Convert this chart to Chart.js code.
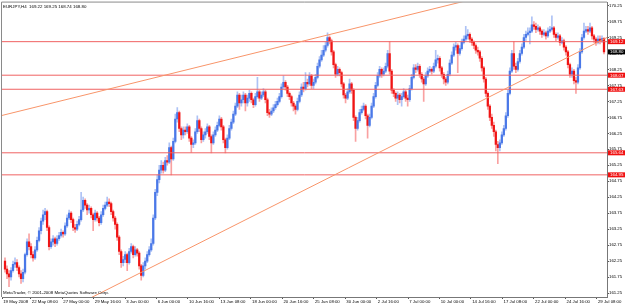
<!DOCTYPE html>
<html>
<head>
<meta charset="utf-8">
<script src="https://cdn.jsdelivr.net/npm/chart.js@4.4.1/dist/chart.umd.min.js"></script>
<style>
  html, body { margin: 0; padding: 0; background: #fff; }
  #wrap { width: 625px; height: 304px; }
</style>
</head>
<body>
<div id="wrap"><canvas id="chart" width="625" height="304"></canvas></div>
<script>
// EURJPY H4 candles, 19 May - 29 Jul 2008
const symbol = 'EURJPY,H4';
const firstOpen = 162.25;
const closes = [
  162.00,161.85,161.75,161.95,162.15,162.20,162.05,161.85,161.70,161.90,
  162.45,162.85,162.70,162.45,162.35,162.60,162.90,163.20,163.50,163.70,
  163.80,163.30,162.70,162.85,162.95,162.80,162.95,163.05,163.15,163.10,
  163.35,163.60,163.75,163.55,163.30,163.25,163.40,163.55,163.85,164.15,
  164.00,163.85,163.90,163.70,163.55,163.75,163.60,163.45,163.70,163.90,
  164.00,164.10,164.05,163.80,163.60,163.40,163.00,162.55,162.20,162.30,
  162.45,162.20,162.55,162.70,162.45,162.60,162.50,162.10,161.80,162.10,
  162.25,162.45,162.60,162.80,163.60,164.40,164.80,165.10,165.25,165.10,
  165.40,165.35,165.80,165.45,166.00,166.70,166.90,166.40,166.20,166.35,
  166.30,166.45,166.10,165.90,165.95,166.30,166.65,166.40,166.05,166.20,
  166.30,166.45,166.15,165.95,166.20,166.35,166.50,166.70,166.45,166.05,
  165.80,166.10,166.40,166.60,166.85,167.10,167.45,167.20,167.30,167.45,
  167.20,167.35,167.50,167.30,167.15,167.40,167.55,167.35,167.45,167.55,
  167.30,166.90,166.85,166.95,167.05,167.15,167.25,167.40,167.70,167.85,
  167.70,167.50,167.40,167.20,167.10,167.00,167.25,167.45,167.70,167.65,
  167.85,167.80,168.05,167.75,167.85,168.00,168.35,168.55,168.70,168.85,
  169.00,169.25,169.15,168.80,168.40,168.10,168.25,168.15,167.80,167.45,
  167.35,167.55,167.80,167.60,166.75,166.40,166.65,166.90,167.00,167.10,
  166.80,166.50,166.75,167.10,167.40,167.75,168.05,168.25,168.10,168.20,
  168.35,168.75,168.20,167.60,167.50,167.35,167.45,167.30,167.40,167.55,
  167.35,167.30,167.65,168.00,168.30,168.25,168.35,168.10,167.95,167.80,
  168.05,168.20,168.25,168.20,168.35,168.55,168.60,168.30,168.10,167.95,
  167.85,168.10,168.45,168.70,168.95,169.00,168.75,168.90,169.10,169.20,
  169.30,169.35,169.20,169.10,169.00,168.85,168.80,168.60,168.30,167.95,
  167.50,167.10,166.75,166.50,166.30,165.90,165.80,165.95,166.20,166.40,
  166.80,167.50,168.20,168.75,168.35,168.25,168.50,168.75,168.95,169.25,
  169.35,169.40,169.45,169.65,169.60,169.50,169.55,169.45,169.35,169.40,
  169.30,169.45,169.50,169.55,169.35,169.25,169.30,169.10,169.15,168.95,
  168.80,168.40,168.10,168.20,167.90,167.85,168.30,168.80,169.25,169.45,
  169.50,169.45,169.55,169.30,169.20,169.10,169.20,169.15,169.22,168.80
];
const highs = [
  162.35,162.10,161.95,162.05,162.25,162.35,162.30,162.10,161.95,162.00,
  162.50,162.95,163.10,162.80,162.55,162.70,163.00,163.30,163.60,163.85,
  163.90,163.85,163.35,162.95,163.05,163.00,163.05,163.15,163.25,163.20,
  163.45,163.70,163.85,163.80,163.60,163.40,163.50,163.65,164.40,164.25,
  164.20,164.05,164.00,163.95,163.75,163.85,163.80,163.65,163.80,164.00,
  164.10,164.25,164.20,164.10,163.85,163.65,163.45,163.05,162.60,162.40,
  162.55,162.50,162.65,162.80,162.75,162.70,162.65,162.55,162.15,162.20,
  162.35,162.55,162.70,162.95,163.70,164.50,164.95,165.25,165.40,165.35,
  165.50,165.55,165.95,165.85,166.10,166.85,167.06,166.95,166.45,166.45,
  166.45,166.55,166.50,166.15,166.05,166.40,166.80,166.70,166.45,166.30,
  166.40,166.55,166.50,166.20,166.30,166.45,166.60,166.80,166.75,166.50,
  166.10,166.20,166.50,166.70,166.95,167.20,167.55,167.50,167.45,167.55,
  167.50,167.45,167.60,167.55,167.35,167.50,168.00,167.60,167.55,167.65,
  167.60,167.35,167.00,167.05,167.15,167.25,167.35,167.50,167.80,168.05,
  167.90,167.75,167.55,167.45,167.25,167.15,167.35,167.55,167.80,167.85,
  168.15,167.95,168.15,168.10,167.95,168.10,168.45,168.65,168.85,169.00,
  169.10,169.40,169.30,169.20,168.85,168.45,168.35,168.30,168.20,167.85,
  167.50,167.65,167.95,167.85,167.65,166.80,166.75,167.00,167.10,167.20,
  167.15,166.85,166.85,167.20,167.50,167.85,168.15,168.35,168.30,168.30,
  168.45,168.85,169.12,168.25,167.65,167.55,167.55,167.50,167.50,167.65,
  167.60,167.45,167.75,168.10,168.40,168.40,168.45,168.40,168.15,168.00,
  168.15,168.30,168.35,168.30,168.45,168.85,168.70,168.65,168.35,168.15,
  168.00,168.20,168.55,168.80,169.05,169.10,169.05,169.00,169.20,169.30,
  169.60,169.50,169.40,169.25,169.15,169.05,168.95,168.85,168.65,168.35,
  168.00,167.55,167.15,166.85,166.60,166.35,166.00,166.05,166.30,166.50,
  166.90,167.60,168.30,168.85,169.12,168.45,168.60,168.85,169.05,169.35,
  169.45,169.55,169.55,169.90,169.75,169.70,169.65,169.60,169.50,169.50,
  169.45,169.55,169.60,169.93,169.60,169.40,169.40,169.35,169.25,169.20,
  169.00,168.85,168.45,168.30,168.25,168.00,168.40,168.90,169.35,169.70,
  169.60,169.60,169.70,169.60,169.35,169.25,169.30,169.30,169.30,169.25
];
const lows = [
  161.90,161.70,161.45,161.65,161.90,162.05,161.95,161.75,161.55,161.60,
  161.85,162.40,162.60,162.35,162.25,162.30,162.55,162.85,163.10,163.40,
  163.55,163.20,162.60,162.65,162.75,162.70,162.75,162.90,163.00,163.00,
  163.05,163.30,163.55,163.45,163.20,163.15,163.20,163.35,163.50,163.80,
  163.90,163.70,163.75,163.60,163.20,163.50,163.50,163.35,163.40,163.65,
  163.85,163.95,163.95,163.70,163.50,163.25,162.90,162.45,162.05,162.10,
  162.20,161.95,162.15,162.50,162.35,162.40,162.40,162.00,161.65,161.75,
  162.00,162.20,162.40,162.55,162.75,163.55,164.30,164.70,165.00,165.00,
  165.05,165.25,165.30,164.95,165.40,165.95,166.60,166.30,166.05,166.10,
  166.20,166.25,166.00,165.65,165.80,165.90,166.25,166.30,165.95,166.00,
  166.10,166.25,166.05,165.64,165.90,166.15,166.30,166.45,166.35,165.95,
  165.64,165.75,166.05,166.35,166.55,166.80,167.05,167.00,167.10,167.20,
  166.95,167.10,167.25,167.20,167.05,167.10,167.35,167.25,167.30,167.40,
  167.20,166.80,166.75,166.80,166.90,167.00,167.10,167.20,167.35,167.65,
  167.60,167.40,167.30,167.10,166.95,166.85,166.95,167.20,167.40,167.55,
  167.60,167.70,167.75,167.65,167.65,167.80,167.95,168.30,168.50,168.65,
  168.80,168.95,169.05,168.70,168.30,168.00,168.05,168.05,167.70,167.35,
  167.20,167.30,167.50,167.50,166.65,166.00,166.35,166.60,166.85,166.95,
  166.70,166.10,166.45,166.70,167.05,167.35,167.70,168.00,168.00,168.05,
  168.15,168.30,168.10,167.50,167.40,167.25,167.15,167.20,167.10,167.35,
  167.25,167.10,167.25,167.60,167.95,168.15,168.20,168.00,167.85,167.25,
  167.75,168.00,168.15,168.10,168.15,168.30,168.45,168.20,168.00,167.80,
  167.75,167.80,168.05,168.40,168.65,168.85,168.15,168.70,168.85,169.05,
  169.15,169.20,169.10,169.00,168.90,168.75,168.70,168.50,168.20,167.85,
  167.40,167.00,166.65,166.40,166.15,165.70,165.30,165.70,165.90,166.15,
  166.35,166.75,167.45,168.15,168.25,168.15,168.20,168.45,168.70,168.90,
  169.15,169.30,169.05,169.40,169.50,169.40,169.45,169.35,169.25,169.30,
  169.20,169.25,169.40,169.45,169.25,169.15,169.20,169.00,169.05,168.85,
  168.70,168.30,168.00,168.00,167.80,167.50,167.80,168.25,168.75,169.20,
  169.40,169.35,169.40,169.20,169.10,169.00,169.05,169.05,169.10,168.74
];

// horizontal levels and trend lines (bar index, price)
const levels = [169.12, 168.07, 167.63, 165.64, 164.95];
const upperTrend = [{ x: -1.5, y: 166.81 }, { x: 300.5, y: 171.49 }];
const lowerTrend = [{ x: 40, y: 161.01 }, { x: 300.5, y: 169.25 }];

// axis ticks
const priceTicks = [161.25, 161.75, 162.25, 162.75, 163.25, 163.75, 164.25, 164.75, 165.25,
  165.75, 166.25, 166.75, 167.25, 167.75, 168.25, 168.75, 169.25, 169.75, 170.25];
const timeTicks = [-1.5, 12.8, 28.5, 44.2, 59.9, 75.6, 91.3, 107.0, 122.7, 138.4, 154.1,
  169.8, 185.5, 201.2, 216.9, 232.6, 248.3, 264.0, 279.7, 295.4];
const timeLabels = ['19 May 2008', '22 May 08:00', '27 May 00:00', '29 May 16:00', '3 Jun 00:00',
  '6 Jun 00:00', '10 Jun 16:00', '13 Jun 08:00', '18 Jun 00:00', '20 Jun 16:00', '25 Jun 08:00',
  '30 Jun 00:00', '2 Jul 16:00', '7 Jul 00:00', '10 Jul 00:00', '14 Jul 16:00', '17 Jul 08:00',
  '22 Jul 00:00', '24 Jul 16:00', '29 Jul 08:00'];

const opens = closes.map((c, i) => (i === 0 ? firstOpen : closes[i - 1]));
const last = closes.length - 1;

const UP = '#4a78e8', DOWN = '#f01414';
const UP_WICK = 'rgba(74,120,232,0.45)', DOWN_WICK = 'rgba(240,20,20,0.4)';
const LEVEL = 'rgb(240,98,98)';
const TREND = 'rgb(248,149,106)';
const isUp = closes.map((c, i) => c >= opens[i]);

const wickData = closes.map((c, i) => ({ x: i, y: [lows[i], highs[i]] }));
const bodyData = closes.map((c, i) => ({ x: i, y: [opens[i], c] }));

const lineSet = (pts, color) => ({
  type: 'line',
  data: pts,
  borderColor: color,
  backgroundColor: color,
  borderWidth: 1,
  pointRadius: 0,
  fill: false,
  order: 0
});

const datasets = [
  {
    data: wickData,
    backgroundColor: isUp.map(u => (u ? UP_WICK : DOWN_WICK)),
    barThickness: 1,
    grouped: false,
    order: 2
  },
  {
    data: bodyData,
    backgroundColor: isUp.map(u => (u ? UP : DOWN)),
    barThickness: 1.6,
    minBarLength: 1,
    grouped: false,
    order: 1
  },
  lineSet(upperTrend, TREND),
  lineSet(lowerTrend, TREND)
];
levels.forEach(v => datasets.push(lineSet([{ x: -1.5, y: v }, { x: 300.5, y: v }], LEVEL)));

const FONT = { family: '"Liberation Sans", Arial, sans-serif', size: 4.3 };

// texts in the corner and price boxes on the axis
const overlay = {
  id: 'overlay',
  afterDraw(chart) {
    const { ctx, chartArea: a } = chart;
    const y = chart.scales.y;
    ctx.save();
    ctx.strokeStyle = '#8a8a8a';
    ctx.lineWidth = 1;
    ctx.beginPath();
    ctx.moveTo(a.left - 0.5, a.bottom);
    ctx.lineTo(a.left - 0.5, a.top - 0.5);
    ctx.lineTo(a.right, a.top - 0.5);
    ctx.stroke();

    ctx.font = '4.4px "Liberation Sans", Arial, sans-serif';
    ctx.fillStyle = '#000';
    ctx.textBaseline = 'alphabetic';
    ctx.textAlign = 'left';
    const t = [opens[last], highs[last], lows[last], closes[last]].map(v => v.toFixed(2)).join(' ');
    ctx.fillText(symbol + '  ' + t, 3, 7.5);
    ctx.fillText('MetaTrader, \u00a9 2001-2008 MetaQuotes Software Corp.', 3, 293.5);

    const box = (v, color) => {
      const py = y.getPixelForValue(v);
      ctx.fillStyle = color;
      ctx.fillRect(a.right + 1, py - 2.5, 17, 5);
      ctx.fillStyle = '#fff';
      ctx.textBaseline = 'middle';
      ctx.fillText(v.toFixed(2), a.right + 3, py + 0.3);
    };
    levels.forEach(v => box(v, '#f01010'));
    box(closes[last], '#000');
    ctx.restore();
  }
};

new Chart(document.getElementById('chart'), {
  type: 'bar',
  data: { datasets },
  options: {
    responsive: false,
    animation: false,
    devicePixelRatio: 1,
    layout: { autoPadding: false, padding: { left: 2, top: 2, right: 0, bottom: 0 } },
    plugins: { legend: { display: false }, tooltip: { enabled: false } },
    scales: {
      x: {
        type: 'linear',
        position: 'bottom',
        offset: false,
        min: -1.5,
        max: 300.5,
        afterBuildTicks: s => { s.ticks = timeTicks.map(v => ({ value: v })); },
        afterFit: s => { s.height = 7; },
        ticks: {
          autoSkip: false,
          maxRotation: 0,
          align: 'start',
          padding: 0,
          color: '#000',
          font: FONT,
          callback: (v, i) => ' ' + timeLabels[i]
        },
        grid: { offset: false, drawOnChartArea: false, tickLength: 2, color: '#555' },
        border: { color: '#777' }
      },
      y: {
        position: 'right',
        min: 161.125,
        max: 170.344,
        afterBuildTicks: s => { s.ticks = priceTicks.map(v => ({ value: v })); },
        afterFit: s => { s.width = 18; },
        ticks: {
          padding: 0,
          color: '#000',
          font: FONT,
          callback: v => v.toFixed(2)
        },
        grid: { drawOnChartArea: false, tickLength: 2, color: '#555' },
        border: { color: '#777' }
      }
    }
  },
  plugins: [overlay]
});
</script>
</body>
</html>
